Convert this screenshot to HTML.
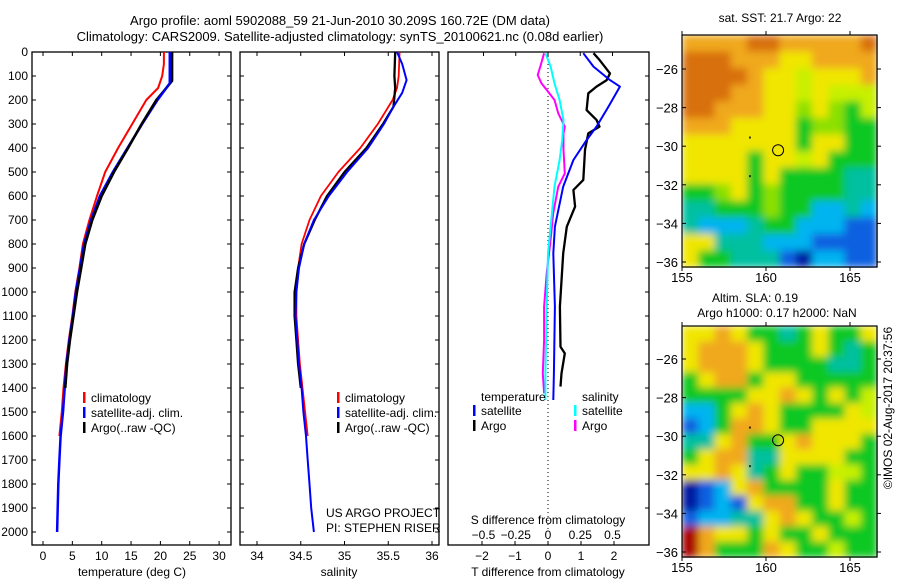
<!DOCTYPE html>
<html><head><meta charset="utf-8"><style>
html,body{margin:0;padding:0;background:#fff;}
svg{display:block;font-family:"Liberation Sans",sans-serif;}
text{font-size:12px;fill:#000;}
</style></head><body>
<svg id="fig" width="900" height="580" viewBox="0 0 900 580">
<defs>
<filter id="smooth" x="0" y="0" width="1" height="1" filterUnits="objectBoundingBox"><feGaussianBlur stdDeviation="4" edgeMode="duplicate"/></filter>
</defs>
<text x="340" y="25" text-anchor="middle" style="font-size:13px">Argo profile: aoml 5902088_59 21-Jun-2010 30.209S 160.72E (DM data)</text>
<text x="340" y="41" text-anchor="middle" style="font-size:13px">Climatology: CARS2009. Satellite-adjusted climatology: synTS_20100621.nc (0.08d earlier)</text>
<g id="g"></g>
</svg>
<script>
// ---- Temperature panel data ----
const tClimDepth=[0,50,100,150,200,300,400,500,600,700,800,900,1000,1100,1200,1300,1400,1500,1600];
const tClimVal=[20.6,20.6,20.3,19.6,17.6,15.2,12.8,10.6,9.2,7.9,6.8,6.2,5.5,5.0,4.4,3.9,3.5,3.2,2.8];
const tSatDepth=[0,100,130,200,300,400,500,600,700,800,900,1000,1100,1200,1300,1400,1500,1600,1700,1800,1900,2000];
const tSatVal=[21.6,21.6,21.6,19.5,16.9,14.4,11.9,9.7,8.2,7.0,6.3,5.6,5.1,4.5,4.0,3.7,3.4,3.0,2.8,2.6,2.5,2.4];
const tArgoDepth=[0,120,150,200,300,400,500,600,700,800,900,1000,1100,1200,1300,1400];
const tArgoVal=[22.0,22.0,21.0,19.3,16.8,14.5,12.1,10.0,8.4,7.2,6.5,5.8,5.2,4.6,4.1,3.8];
// ---- Salinity panel data ----
const sClimDepth=[0,100,150,200,300,400,500,600,700,800,900,1000,1100,1200,1300,1400,1500,1600];
const sClimVal=[35.63,35.62,35.6,35.55,35.38,35.18,34.93,34.73,34.6,34.51,34.47,34.45,34.45,34.47,34.49,34.52,34.55,34.58];
const sSatDepth=[0,50,117,170,228,300,400,500,600,700,800,900,1000,1100,1200,1300,1400,1500,1600,1700,1800,1900,2000];
const sSatVal=[35.6,35.66,35.71,35.66,35.56,35.45,35.27,35.03,34.82,34.65,34.54,34.48,34.45,34.44,34.46,34.48,34.51,34.53,34.56,34.58,34.6,34.62,34.65];
const sArgoDepth=[0,100,150,228,300,400,500,600,700,800,900,1000,1100,1200,1300,1400];
const sArgoVal=[35.58,35.57,35.58,35.56,35.44,35.25,35.0,34.8,34.66,34.54,34.47,34.43,34.43,34.45,34.47,34.5];
// ---- Difference panel data ----
const dTSatDepth=[5,61,117,144,228,311,367,450,561,728,839,1061,1339,1450];
const dTSatVal=[1.07,1.38,1.88,2.18,1.83,1.47,1.17,0.77,0.46,0.21,0.16,0.21,0.18,0.16];
const dTArgoDepth=[5,33,89,117,144,172,242,283,311,339,408,533,575,644,728,839,1061,1228,1256,1339,1394];
const dTArgoVal=[1.38,1.56,1.88,1.78,1.47,1.22,1.17,1.47,1.56,1.22,1.12,1.07,0.77,0.82,0.57,0.46,0.36,0.38,0.51,0.41,0.38];
const dSSatDepth=[5,61,131,200,283,367,450,561,672,839,1061,1339,1450];
const dSSatVal=[-0.02,0.02,0.05,0.09,0.12,0.11,0.09,0.05,0.03,0.0,-0.01,-0.02,-0.02];
const dSArgoDepth=[5,61,96,131,158,200,256,311,339,408,506,561,672,783,922,1061,1200,1339,1422];
const dSArgoVal=[-0.03,-0.06,-0.08,-0.05,-0.01,0.05,0.08,0.13,0.12,0.12,0.13,0.08,0.04,0.02,-0.01,-0.03,-0.03,-0.04,-0.03];
// ---- Map data (colour codes per cell) ----
const sstRows=["OOOOooOOOOOo","oooOOOyyOOOO","ooooOyylyyyO","oooOOyylylll","ooOOOyygygGl","OOOyyyyGggGG","yyyyyyyGyyGG","yyyyGyylyGGG","yyyyGyGGGGtt","GGgyGgGGGGtt","ttGGGgGGcctc","tccctGGcccbb","yytttcccbbbb","yGGtttbdccbb"];
const slaRows=["yyOyGGtGyGGy","yOOOyGGGyGtG","yOOOyGGGGttG","GyOOGyyGGGGG","GGGGyyOyGyGl","ccGyOyGGGGyl","bcGOOyGGyyyy","ttyOGGyOyyyG","GyOOttyyyyGG","yyOytGyGGllG","dbcyOGGGGyGG","dbcbyOOGGyGG","bccttyOyGGlG","rOyyGyGGyGGG","rOGGGOyGGlGG"];
const latTicks=[26,28,30,32,34,36];
const lonTicks=[155,160,165];
const argoLon=160.72, argoLat=30.209;

const NS="http://www.w3.org/2000/svg";
const G=document.getElementById('g');
function el(tag,attrs,parent){const e=document.createElementNS(NS,tag);for(const k in attrs)e.setAttribute(k,attrs[k]);(parent||G).appendChild(e);return e;}
function txt(x,y,s,anchor,parent,size){const t=el('text',{x:x,y:y,'text-anchor':anchor||'start'},parent);if(size)t.style.fontSize=size+'px';t.textContent=s;return t;}

const TOP=52,BOT=545;
const yD=d=>TOP+d*0.24;
const xT=v=>43+v*5.87;
const xS=v=>257+(v-34)*87.5;
const xdT=v=>548+v*33;
const xdS=v=>548+v*129;

function line(depths,vals,xf,color,w,name){
  let d='';
  for(let i=0;i<depths.length;i++){d+=(i?'L':'M')+xf(vals[i]).toFixed(1)+','+yD(depths[i]).toFixed(1);}
  const p=el('path',{d:d,fill:'none',stroke:color,'stroke-width':w,'stroke-linejoin':'round'});
  
  
}
function box(x0,x1,name){
  const r=el('rect',{x:x0,y:TOP,width:x1-x0,height:BOT-TOP,fill:'none',stroke:'#000','stroke-width':1.3});
  
  
}
function legendEntry(x,y,color,label,name){
  const g=el('g',{});
  
  
  el('rect',{x:x,y:y-10,width:2.5,height:11,fill:color},g);
  txt(x+8,y,label,'start',g);
}

// Panel 1: temperature
box(32,231,'temperature-panel');
for(let d=0;d<=2000;d+=100){
  el('line',{x1:32,x2:36,y1:yD(d),y2:yD(d),stroke:'#000'});
  el('line',{x1:227,x2:231,y1:yD(d),y2:yD(d),stroke:'#000'});
  const t=txt(28,yD(d)+4,String(d),'end');
  
  
}
for(let v=0;v<=30;v+=5){
  el('line',{x1:xT(v),x2:xT(v),y1:TOP,y2:TOP+4,stroke:'#000'});
  el('line',{x1:xT(v),x2:xT(v),y1:BOT,y2:BOT-4,stroke:'#000'});
  txt(xT(v),560,String(v),'middle');
}
txt(132,576,'temperature (deg C)','middle');
line(tClimDepth,tClimVal,xT,'#f00',2,'temp-climatology-line');
line(tSatDepth,tSatVal,xT,'#00f',2.5,'temp-satellite-line');
line(tArgoDepth,tArgoVal,xT,'#000',2.5,'temp-argo-line');
line(tSatDepth.slice(0,4),tSatVal.slice(0,4),xT,'#00f',2,'temp-satellite-line-top');
legendEntry(83,402,'#f00','climatology','legend-climatology');
legendEntry(83,417,'#00f','satellite-adj. clim.','legend-satellite');
legendEntry(83,432,'#000','Argo(..raw -QC)','legend-argo');

// Panel 2: salinity
box(240,439,'salinity-panel');
for(let d=0;d<=2000;d+=100){
  el('line',{x1:240,x2:244,y1:yD(d),y2:yD(d),stroke:'#000'});
  el('line',{x1:435,x2:439,y1:yD(d),y2:yD(d),stroke:'#000'});
}
[34,34.5,35,35.5,36].forEach(v=>{
  el('line',{x1:xS(v),x2:xS(v),y1:TOP,y2:TOP+4,stroke:'#000'});
  el('line',{x1:xS(v),x2:xS(v),y1:BOT,y2:BOT-4,stroke:'#000'});
  txt(xS(v),560,String(v),'middle');
});
txt(339,576,'salinity','middle');
line(sClimDepth,sClimVal,xS,'#f00',1.8,'sal-climatology-line');
line(sArgoDepth,sArgoVal,xS,'#000',2.3,'sal-argo-line');
line(sSatDepth,sSatVal,xS,'#00f',2,'sal-satellite-line');
legendEntry(337,402,'#f00','climatology','legend-climatology-2');
legendEntry(337,417,'#00f','satellite-adj. clim.','legend-satellite-2');
legendEntry(337,432,'#000','Argo(..raw -QC)','legend-argo-2');
txt(326,517,'US ARGO PROJECT');
txt(326,532,'PI: STEPHEN RISER');

// Panel 3: differences
box(448,649,'difference-panel');
for(let d=0;d<=1900;d+=100){
  el('line',{x1:645,x2:649,y1:yD(d),y2:yD(d),stroke:'#000'});
}
el('line',{x1:548,x2:548,y1:TOP,y2:530,stroke:'#000','stroke-dasharray':'1,3'});
[-2,-1,0,1,2].forEach(v=>{
  el('line',{x1:xdT(v),x2:xdT(v),y1:BOT,y2:BOT-4,stroke:'#000'});
  txt(xdT(v),560,String(v).replace('-','\u2212'),'middle');
});
txt(548,576,'T difference from climatology','middle');
[-0.5,-0.25,0,0.25,0.5].forEach(v=>{
  el('line',{x1:xdS(v),x2:xdS(v),y1:TOP,y2:TOP+4,stroke:'#000'});
  txt(xdS(v),539,String(v).replace('-','\u2212'),'middle');
});
txt(548,524,'S difference from climatology','middle');
line(dTArgoDepth,dTArgoVal,xdT,'#000',2.3,'dT-argo-line');
line(dTSatDepth,dTSatVal,xdT,'#00f',2,'dT-satellite-line');
line(dSArgoDepth,dSArgoVal,xdS,'#f0f',2,'dS-argo-line');
line(dSSatDepth,dSSatVal,xdS,'#0ff',2,'dS-satellite-line');
txt(481,401,'temperature');
legendEntry(473,415,'#00f','satellite','legend-dT-satellite');
legendEntry(473,430,'#000','Argo','legend-dT-argo');
txt(582,401,'salinity');
legendEntry(574,415,'#0ff','satellite','legend-dS-satellite');
legendEntry(574,430,'#f0f','Argo','legend-dS-argo');

// Maps
const CMAP={r:'#a80000',o:'#d8700a',O:'#f0a81e',y:'#f0e600',l:'#c8f000',g:'#8ce000',G:'#10c820',t:'#00c0a0',c:'#00b4f0',b:'#1060e0',d:'#0018a0'};
function map(rows,x0,x1,y0,y1,yLat26,name,titleLines){
  const g=el('g',{});
  
  
  const nr=rows.length,nc=rows[0].length;
  const cw=(x1-x0)/nc,ch=(y1-y0)/nr;
  const cells=el('g',{filter:'url(#smooth)'},g);
  rows.forEach((row,i)=>{for(let j=0;j<nc;j++){
    el('rect',{x:(x0+j*cw).toFixed(2),y:(y0+i*ch).toFixed(2),width:(cw+0.6).toFixed(2),height:(ch+0.6).toFixed(2),fill:CMAP[row[j]]},cells);
  }});
  el('rect',{x:x0,y:y0,width:x1-x0,height:y1-y0,fill:'none',stroke:'#000','stroke-width':1.2},g);
  const lx=v=>682+(v-155)*16.8;
  const ly=v=>yLat26+(v-26)*19.3;
  latTicks.forEach(v=>{
    el('line',{x1:x0,x2:x0+4,y1:ly(v),y2:ly(v),stroke:'#000'},g);
    el('line',{x1:x1,x2:x1+4,y1:ly(v),y2:ly(v),stroke:'#000'},g);
    txt(678,ly(v)+5,'\u2212'+v,'end',g,13);
  });
  lonTicks.forEach(v=>{
    el('line',{x1:lx(v),x2:lx(v),y1:y0,y2:y0-4,stroke:'#000'},g);
    el('line',{x1:lx(v),x2:lx(v),y1:y1,y2:y1+4,stroke:'#000'},g);
    txt(lx(v),y1+15,String(v),'middle',g,13);
  });
  el('circle',{cx:lx(argoLon),cy:ly(argoLat),r:5.5,fill:'none',stroke:'#000','stroke-width':1},g);
  el('rect',{x:lx(159),y:ly(29.5),width:1.5,height:2,fill:'#000'},g);
  el('rect',{x:lx(159),y:ly(31.5),width:1.5,height:2,fill:'#000'},g);
  titleLines.forEach(t=>txt(t[0],t[1],t[2],'middle',g,12));
}
map(sstRows,682,877,35,267,69,'sst-map',[[780,22,'sat. SST: 21.7 Argo: 22']]);
map(slaRows,682,877,326,557,359,'sla-map',[[755,302,'Altim. SLA: 0.19'],[777,317,'Argo h1000: 0.17 h2000: NaN']]);
const cr=txt(0,0,'\u00a9IMOS 02-Aug-2017 20:37:56','middle');
cr.setAttribute('transform','translate(892,408) rotate(-90)');


</script>
</body></html>
